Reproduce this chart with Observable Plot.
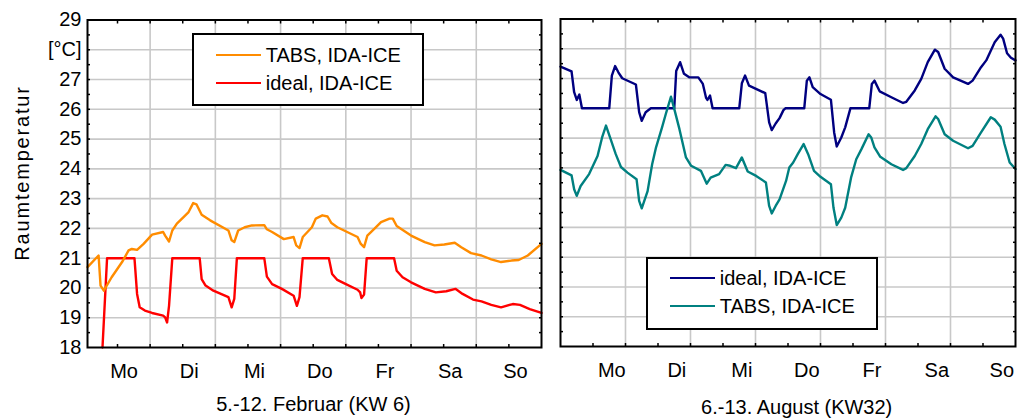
<!DOCTYPE html>
<html><head><meta charset="utf-8">
<script src="https://cdn.jsdelivr.net/npm/d3@7"></script>
<script src="https://cdn.jsdelivr.net/npm/@observablehq/plot@0.6"></script>
<style>
body{margin:0;background:#fff;font-family:"Liberation Sans",Arial,sans-serif;}
#wrap{position:relative;width:1027px;height:420px;overflow:hidden;background:#fff;}
#wrap svg{position:absolute;top:0;}
.legend{position:absolute;box-sizing:border-box;border:2px solid #000;background:#fff;}
.row{position:absolute;left:0;right:0;height:24px;line-height:24px;font-size:20px;color:#000;}
.sw{position:absolute;left:22px;width:45px;top:10.75px;height:0;border-top:2.5px solid;}
.lt{position:absolute;left:72px;top:0;white-space:nowrap;}
.title{position:absolute;width:300px;text-align:center;font-size:20px;line-height:23px;white-space:nowrap;color:#000;}
.ylab{position:absolute;font-size:20px;line-height:23px;letter-spacing:1.8px;white-space:nowrap;transform:translate(-50%,-50%) rotate(-90deg);color:#000;}
</style></head>
<body><div id="wrap"></div>
<script>
// ---- data (day index since Monday 0:00, temperature °C) ----
const days = ["Mo", "Di", "Mi", "Do", "Fr", "Sa", "So"];
const yTicks = [18, 19, 20, 21, 22, 23, 24, 25, 26, 27, 28, 29];
const yTickLabels = ["18", "19", "20", "21", "22", "23", "24", "25", "26", "27", "[°C]", "29"];
const yAxisTitle = "Raumtemperatur";
const winterTitle = "5.-12. Februar (KW 6)";
const summerTitle = "6.-13. August (KW32)";

const winterTabs = [[0.04,20.70],[0.21,21.09],[0.24,20.08],[0.29,19.91],[0.41,20.36],[0.57,20.87],[0.67,21.26],[0.72,21.31],[0.80,21.28],[0.90,21.48],[1.03,21.79],[1.20,21.88],[1.23,21.76],[1.29,21.56],[1.34,21.93],[1.41,22.16],[1.54,22.44],[1.59,22.55],[1.66,22.85],[1.71,22.81],[1.79,22.46],[1.92,22.27],[2.20,21.93],[2.25,21.60],[2.29,21.54],[2.35,21.93],[2.45,22.04],[2.56,22.10],[2.75,22.11],[2.79,21.97],[2.87,21.88],[3.05,21.64],[3.20,21.71],[3.24,21.43],[3.29,21.34],[3.34,21.71],[3.48,22.04],[3.54,22.33],[3.64,22.44],[3.72,22.40],[3.78,22.18],[3.87,22.04],[4.18,21.71],[4.23,21.48],[4.28,21.37],[4.33,21.76],[4.44,21.99],[4.54,22.21],[4.67,22.33],[4.72,22.33],[4.78,22.08],[5.00,21.76],[5.21,21.54],[5.36,21.43],[5.51,21.46],[5.67,21.52],[5.77,21.37],[5.92,21.17],[6.08,21.09],[6.23,20.96],[6.38,20.87],[6.54,20.92],[6.65,20.94],[6.79,21.09],[7.00,21.48]];

const winterIdeal = [[0.27,18.0],[0.34,21.0],[0.76,21.0],[0.80,19.80],[0.84,19.35],[0.92,19.24],[1.03,19.16],[1.20,19.07],[1.23,19.01],[1.26,18.84],[1.29,19.40],[1.34,21.0],[1.76,21.0],[1.79,20.30],[1.85,20.08],[1.97,19.91],[2.20,19.69],[2.25,19.35],[2.29,19.63],[2.33,21.0],[2.75,21.0],[2.79,20.38],[2.87,20.13],[3.02,19.97],[3.20,19.74],[3.25,19.40],[3.29,19.69],[3.34,21.0],[3.74,21.0],[3.79,20.47],[3.87,20.27],[3.97,20.16],[4.18,19.94],[4.22,19.85],[4.24,19.66],[4.28,19.78],[4.32,21.0],[4.74,21.0],[4.78,20.58],[4.87,20.36],[5.00,20.19],[5.21,19.97],[5.38,19.85],[5.54,19.89],[5.68,19.97],[5.79,19.80],[5.95,19.61],[6.08,19.55],[6.23,19.43],[6.38,19.35],[6.56,19.46],[6.67,19.43],[6.82,19.29],[7.00,19.16]];

const summerIdeal = [[0,27.40],[0.17,27.24],[0.21,26.54],[0.25,26.28],[0.29,26.46],[0.33,26.0],[0.75,26.0],[0.79,27.10],[0.84,27.42],[0.89,27.21],[0.95,27.01],[1.16,26.80],[1.21,25.87],[1.25,25.58],[1.31,25.87],[1.39,26.0],[1.75,26.0],[1.78,27.25],[1.84,27.55],[1.90,27.16],[1.98,27.04],[2.12,27.04],[2.19,26.82],[2.24,26.35],[2.26,26.28],[2.30,26.43],[2.34,26.0],[2.75,26.0],[2.79,26.84],[2.84,27.10],[2.90,26.76],[3.15,26.51],[3.21,25.53],[3.25,25.27],[3.31,25.49],[3.37,25.67],[3.43,25.94],[3.46,26.0],[3.75,26.0],[3.79,26.93],[3.83,27.04],[3.88,26.71],[4.0,26.48],[4.16,26.29],[4.21,25.19],[4.25,24.72],[4.32,25.02],[4.38,25.36],[4.46,26.0],[4.75,26.0],[4.79,26.82],[4.83,26.93],[4.91,26.57],[5.09,26.37],[5.27,26.18],[5.32,26.22],[5.45,26.60],[5.55,26.99],[5.65,27.55],[5.76,27.97],[5.81,27.89],[5.91,27.33],[6.04,27.04],[6.27,26.82],[6.34,26.93],[6.47,27.38],[6.55,27.61],[6.68,28.22],[6.77,28.47],[6.81,28.34],[6.87,27.85],[6.93,27.70],[7.0,27.61]];

const summerTabs = [[0,23.93],[0.17,23.75],[0.21,23.28],[0.25,23.06],[0.31,23.39],[0.44,23.79],[0.57,24.40],[0.64,25.02],[0.70,25.42],[0.77,24.97],[0.85,24.46],[0.93,24.03],[1.03,23.84],[1.17,23.62],[1.21,22.89],[1.25,22.64],[1.34,23.22],[1.41,24.12],[1.47,24.69],[1.56,25.34],[1.62,25.81],[1.70,26.39],[1.75,25.98],[1.83,25.30],[1.93,24.35],[2.01,24.07],[2.16,23.90],[2.25,23.47],[2.31,23.67],[2.44,23.79],[2.54,24.10],[2.61,24.07],[2.70,23.99],[2.79,24.35],[2.88,23.88],[3.01,23.73],[3.16,23.51],[3.21,22.72],[3.25,22.47],[3.31,22.72],[3.37,22.94],[3.47,23.56],[3.52,24.01],[3.58,24.18],[3.65,24.46],[3.74,24.80],[3.81,24.46],[3.90,23.90],[4.0,23.70],[4.16,23.45],[4.20,22.66],[4.25,22.08],[4.32,22.33],[4.38,22.66],[4.47,23.67],[4.55,24.29],[4.63,24.63],[4.74,25.13],[4.78,25.02],[4.83,24.69],[4.92,24.37],[5.09,24.12],[5.27,23.93],[5.32,23.99],[5.45,24.40],[5.55,24.80],[5.65,25.30],[5.77,25.73],[5.81,25.64],[5.91,25.13],[6.04,24.91],[6.27,24.66],[6.34,24.74],[6.47,25.19],[6.62,25.70],[6.68,25.62],[6.77,25.38],[6.83,24.80],[6.91,24.18],[7.0,23.96]];

const winterSeries = [
  {name: "TABS, IDA-ICE", color: "#ff8c00", data: winterTabs},
  {name: "ideal, IDA-ICE", color: "#ff0000", data: winterIdeal}
];
const summerSeries = [
  {name: "ideal, IDA-ICE", color: "#000080", data: summerIdeal},
  {name: "TABS, IDA-ICE", color: "#008080", data: summerTabs}
];

// ---- helpers ----
const halfY = d3.range(18.5, 29, 0.5);
const halfX = d3.range(0.5, 7, 0.5);
const gridYs = yTicks.filter(v => v > 18 && v < 29);
const gridXs = d3.range(1, 7);
const gridStyle = {stroke: "#c8c8c8", strokeOpacity: 1, strokeWidth: 1.6};
const font = {fontFamily: "'Liberation Sans', Arial, sans-serif", fontSize: "20px", color: "#000", background: "transparent"};

function panel({width, left, right, top, bottom, xDomain, series, drawOrder, yLabels, labelOffset}) {
  const marks = [
    Plot.gridY({ticks: gridYs, ...gridStyle}),
    Plot.gridX({ticks: gridXs, ...gridStyle}),
    ...drawOrder.map(i => Plot.line(series[i].data, {x: d => d[0], y: d => d[1], stroke: series[i].color, strokeWidth: 2.4, strokeLinejoin: "round"})),
    Plot.axisY({ticks: halfY, anchor: "left", tickSize: 3, dx: 3, fill: "none", label: null, strokeWidth: 1.5}),
    Plot.axisY({ticks: halfY, anchor: "right", tickSize: 3, dx: -3, fill: "none", label: null, strokeWidth: 1.5}),
    Plot.axisX({ticks: halfX, anchor: "top", tickSize: 3, dy: 3, fill: "none", label: null, strokeWidth: 1.5}),
    Plot.axisX({ticks: halfX, anchor: "bottom", tickSize: 3, dy: -3, fill: "none", label: null, strokeWidth: 1.5}),
    Plot.axisX({ticks: days.map((d, i) => i + labelOffset), tickFormat: v => days[Math.round(v - labelOffset)], anchor: "bottom", tickSize: 0, tickPadding: 16, label: null, fill: "#000"}),
    Plot.frame({stroke: "#000", strokeWidth: 2})
  ];
  if (yLabels) marks.push(Plot.axisY({ticks: yTicks, tickFormat: v => yTickLabels[yTicks.indexOf(v)], anchor: "left", tickSize: 0, tickPadding: 6, label: null, fill: "#000"}));
  return Plot.plot({
    width, height: 420,
    marginLeft: left, marginRight: right, marginTop: top, marginBottom: bottom,
    x: {domain: xDomain},
    y: {domain: [18, 29]},
    style: font,
    marks
  });
}

const wrap = document.getElementById("wrap");

const p1 = panel({width: 548, left: 87, right: 7, top: 19.5, bottom: 73, xDomain: [0.04, 7], series: winterSeries, drawOrder: [1, 0], yLabels: true, labelOffset: 0.6});
p1.style.left = "0px";
wrap.appendChild(p1);

const p2 = panel({width: 479, left: 12, right: 12, top: 18.5, bottom: 74, xDomain: [0, 7], series: summerSeries, drawOrder: [0, 1], yLabels: false, labelOffset: 0.79});
p2.style.left = "548px";
wrap.appendChild(p2);

function legend(series, left, top) {
  const box = document.createElement("div");
  box.className = "legend";
  Object.assign(box.style, {left: left + "px", top: top + "px", width: "232px", height: "73px"});
  series.forEach((s, i) => {
    const row = document.createElement("div");
    row.className = "row";
    row.style.top = (7.7 + i * 27.8) + "px";
    const sw = document.createElement("div");
    sw.className = "sw";
    sw.style.borderTopColor = s.color;
    const t = document.createElement("div");
    t.className = "lt";
    t.textContent = s.name;
    row.appendChild(sw); row.appendChild(t);
    box.appendChild(row);
  });
  wrap.appendChild(box);
}
legend(winterSeries, 191.7, 33.3);
legend(summerSeries, 645.7, 256.7);

function addText(cls, text, styles) {
  const el = document.createElement("div");
  el.className = cls;
  el.textContent = text;
  Object.assign(el.style, styles);
  wrap.appendChild(el);
}
addText("title", winterTitle, {left: (313.5 - 150) + "px", top: "393px"});
addText("title", summerTitle, {left: (796.7 - 150) + "px", top: "395.5px"});
addText("ylab", yAxisTitle, {left: "22px", top: "172.5px"});
</script></body></html>
